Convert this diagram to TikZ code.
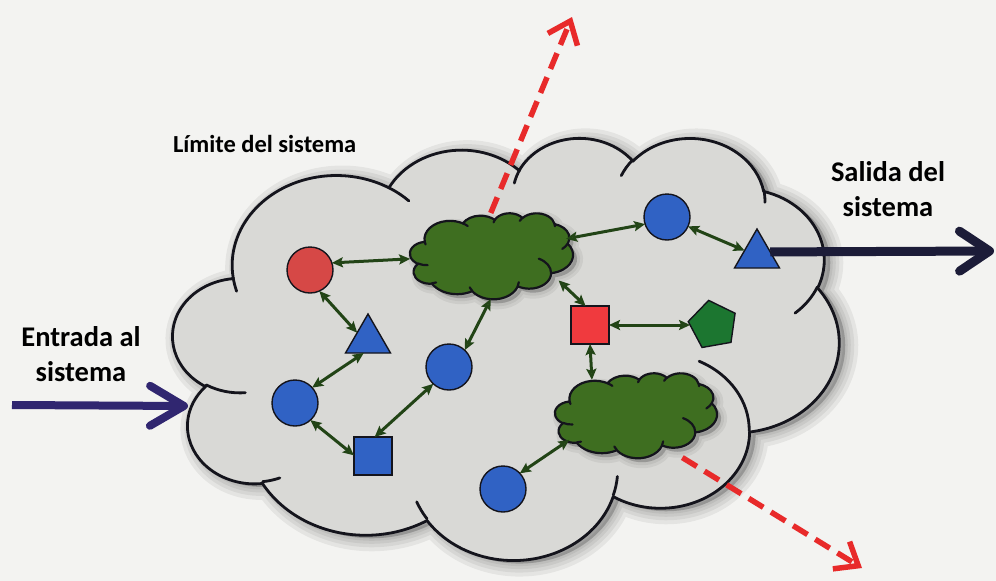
\documentclass[tikz,border=0pt]{standalone}
\usepackage{fontspec}
\setmainfont{Carlito}
\usetikzlibrary{arrows.meta,shapes.geometric}

\definecolor{bgc}{RGB}{243,243,241}
\definecolor{cloudc}{RGB}{217,217,214}
\definecolor{blobc}{RGB}{62,110,32}
\definecolor{linkc}{RGB}{34,68,22}
\definecolor{tipc}{RGB}{62,108,38}
\definecolor{bluec}{RGB}{48,98,196}
\definecolor{redc}{RGB}{214,72,70}
\definecolor{redsq}{RGB}{240,58,62}
\definecolor{pentc}{RGB}{28,118,48}
\definecolor{dashc}{RGB}{232,42,42}
\definecolor{inc}{RGB}{48,38,112}
\definecolor{outc}{RGB}{28,28,56}
\definecolor{edgec}{RGB}{20,20,28}

% polar (DrawingML) angles -> parametric arc style
\newcommand\cldcalc[5]{%
  \pgfmathsetmacro\cldtA{atan2((#2)*sin(#4),(#3)*cos(#4))}%
  \pgfmathsetmacro\cldtB{atan2((#2)*sin((#4)+(#5)),(#3)*cos((#4)+(#5)))}%
  \pgfmathsetmacro\cldtD{mod((\cldtB)-(\cldtA)+720,360)}%
  \tikzset{#1/.style/.expanded={start angle=\cldtA, delta angle=\cldtD, x radius=#2, y radius=#3}}%
}
\cldcalc{cA1}{675.3}{919.0}{-190.4875}{123.7805}
\cldcalc{cA2}{533.3}{726.7}{-144.1024}{89.9452}
\cldcalc{cA3}{436.5}{594.5}{-145.8079}{99.7230}
\cldcalc{cA4}{485.7}{659.5}{-130.9861}{117.2417}
\cldcalc{cA5}{533.3}{727.3}{-78.7089}{109.0269}
\cldcalc{cA6}{677.5}{922.0}{-46.2673}{130.2690}
\cldcalc{cA7}{578.5}{786.7}{0.6250}{114.0333}
\cldcalc{cA8}{675.2}{921.5}{22.4516}{115.1726}
\cldcalc{cA9}{772.0}{1054.3}{66.2426}{75.7110}
\cldcalc{cA10}{436.0}{591.8}{-274.9421}{146.7356}
\cldcalc{cA11}{434.5}{594.5}{-246.8285}{152.5189}
\cldcalc{cT1}{434.5}{594.5}{86.742}{26.4295}
\cldcalc{cT2}{436.0}{591.8}{73.6105}{11.4475}
\cldcalc{cT3}{675.2}{921.5}{137.6242}{14.0811}
\cldcalc{cT4}{675.2}{921.5}{6.4533}{15.9984}
\cldcalc{cT5}{578.5}{786.7}{-70.2924}{70.9174}
\cldcalc{cT6}{533.3}{727.3}{30.3180}{27.7515}
\cldcalc{cT7}{485.7}{659.5}{-13.7443}{14.8589}
\cldcalc{cT8}{485.7}{659.5}{-149.1815}{18.1954}
\cldcalc{cT9}{436.5}{594.5}{-163.4943}{17.6864}
\cldcalc{cT10}{675.3}{919.0}{-66.7070}{12.3194}
\cldcalc{cT11}{675.3}{919.0}{157.6544}{11.8582}

\newcommand\cldpath{(390,1437) arc[cA1] arc[cA2] arc[cA3] arc[cA4] arc[cA5] arc[cA6] arc[cA7] arc[cA8] arc[cA9] arc[cA10] arc[cA11] -- cycle}
\newcommand\cldticks{(469.3,2617.7) arc[cT1] (692.8,3489.9) arc[cT2] (1647.8,3909.0) arc[cT3] (2882.7,3475.1) arc[cT4] (3412.9,2295.4) arc[cT5] (4179.8,1535.4) arc[cT6] (3832.4,542.6) arc[cT7] (2907.8,395.2) arc[cT8] (2214.1,472.0) arc[cT9] (1400.0,519.2) arc[cT10] (412.7,1578.9) arc[cT11]}

\tikzset{
  shp/.style={draw=edgec, line width=1.4pt, inner sep=0pt, outer sep=0pt},
  bcirc/.style={shp, circle, fill=bluec, minimum size=46pt},
  rcirc/.style={shp, circle, fill=redc, minimum size=46pt},
  btri/.style={shp, regular polygon, regular polygon sides=3, fill=bluec, minimum size=52pt},
  bsq/.style={shp, rectangle, fill=bluec, minimum size=38pt},
  rsq/.style={shp, rectangle, fill=redsq, minimum size=38pt},
  pent/.style={shp, regular polygon, regular polygon sides=5, fill=pentc, minimum size=50pt, shape border rotate=10},
  blobport/.style={ellipse, inner sep=0pt, outer sep=0pt},
  link/.style={draw=linkc, line width=3pt, {Stealth[length=11pt,width=10pt,inset=2pt,fill=tipc]}-{Stealth[length=11pt,width=10pt,inset=2pt,fill=tipc]}},
  leak/.style={draw=dashc, line width=5.5pt, dash pattern=on 17pt off 9pt, -{Straight Barb[length=20pt,width=32pt]}},
  inarrow/.style={draw=inc, line width=8pt, -{Straight Barb[length=34pt,width=40pt,round]}},
  outarrow/.style={draw=outc, line width=9pt, -{Straight Barb[length=30pt,width=40pt,round]}},
  lbl/.style={inner sep=0pt, outer sep=0pt, text=black, align=center},
  shadowfill/.style={black, opacity=0.2},
  shadowblur/.style={draw=black, opacity=0.06, line join=round}
}

\begin{document}
\begin{tikzpicture}[x=1pt,y=-1pt]
\useasboundingbox (0,0) rectangle (996,581);
\fill[bgc] (0,0) rectangle (996,581);

% ---- system boundary cloud: shadow
\begin{scope}[xshift=179pt,yshift=-140pt,x=0.154167pt,y=-0.097685pt]
  \fill[shadowfill] \cldpath;
  \draw[shadowblur, line width=26pt] \cldpath;
  \draw[shadowblur, line width=18pt] \cldpath;
  \draw[shadowblur, line width=11pt] \cldpath;
  \draw[shadowblur, line width=5pt] \cldpath;
\end{scope}
% ---- system boundary cloud
\begin{scope}[xshift=173pt,yshift=-137pt,x=0.154167pt,y=-0.097685pt]
  \fill[cloudc] \cldpath;
  \draw[edgec, line width=2.8pt, line join=round] \cldpath;
  \draw[edgec, line width=2.8pt, line cap=round] \cldticks;
\end{scope}

% ---- green blobs: shadows
\begin{scope}[xshift=414pt,yshift=-217pt,x=0.037731pt,y=-0.019907pt]
  \fill[shadowfill] \cldpath;
  \draw[shadowblur, line width=12pt] \cldpath;
  \draw[shadowblur, line width=6pt] \cldpath;
\end{scope}
\begin{scope}[xshift=559pt,yshift=-377pt,x=0.0375pt,y=-0.019676pt]
  \fill[shadowfill] \cldpath;
  \draw[shadowblur, line width=12pt] \cldpath;
  \draw[shadowblur, line width=6pt] \cldpath;
\end{scope}
% ---- green blobs
\begin{scope}[xshift=410pt,yshift=-213pt,x=0.037731pt,y=-0.019907pt]
  \fill[blobc] \cldpath;
  \draw[edgec, line width=2.2pt, line join=round] \cldpath;
  \draw[edgec, line width=2.2pt, line cap=round] \cldticks;
\end{scope}
\begin{scope}[xshift=555pt,yshift=-373pt,x=0.0375pt,y=-0.019676pt]
  \fill[blobc] \cldpath;
  \draw[edgec, line width=2.2pt, line join=round] \cldpath;
  \draw[edgec, line width=2.2pt, line cap=round] \cldticks;
\end{scope}
\node[blobport, minimum width=163pt, minimum height=86pt] (g1) at (491.5,256) {};
\node[blobport, minimum width=162pt, minimum height=85pt] (g2) at (636,415.5) {};

% ---- labels
\node[lbl, anchor=base west, font=\bfseries\fontsize{24.5}{30}\selectfont] (lim) at (173,152) {Límite del sistema};
\node[lbl, font=\bfseries\fontsize{28.5}{35}\selectfont] (inl) at (81,354) {Entrada al\\sistema};
\node[lbl, font=\bfseries\fontsize{28.5}{35}\selectfont] (outl) at (888,189) {Salida del\\sistema};

% ---- elements
\node[rcirc] (rc) at (310,270) {};
\node[btri] (tri1) at (368,340) {};
\node[bcirc] (c1) at (295,403) {};
\node[bsq] (sq1) at (373,456) {};
\node[bcirc] (c2) at (449,367) {};
\node[bcirc] (c4) at (503,489) {};
\node[rsq] (sq2) at (590,325) {};
\node[pent] (pn) at (713,325) {};
\node[bcirc] (c3) at (667,217) {};
\node[btri] (tri2) at (757,255) {};

% ---- relations
\draw[link] (rc.18) -- (g1.182);
\draw[link] (rc.-66) -- (tri1.146);
\draw[link] (tri1.-108) -- (c1.42);
\draw[link] (c1.-48) -- (sq1.178);
\draw[link] (sq1.85) -- (c2.227);
\draw[link] (c2.47) -- (g1.-91);
\draw[link] (g1.13) -- (c3.198);
\draw[link] (c3.-24) -- (tri2.160);
\draw[link] (g1.-20) -- (sq2.103);
\draw[link] (sq2.east) -- (pn.180);
\draw[link] (sq2.south) -- (g2.141);
\draw[link] (g2.200) -- (c4.43);

% ---- leaks across the boundary
\coordinate (up) at (572,17);
\coordinate (dn) at (862,568);
\draw[leak] (g1.91) -- (up);
\draw[leak, shorten <=9pt] (g2.-44) -- (dn);

% ---- input / output
\coordinate (inS) at (12,405);
\coordinate (inE) at (188,406);
\draw[inarrow] (inS) -- (inE);
\coordinate (outE) at (994,251);
\draw[outarrow] (tri2.13) -- (outE);
\end{tikzpicture}
\end{document}
